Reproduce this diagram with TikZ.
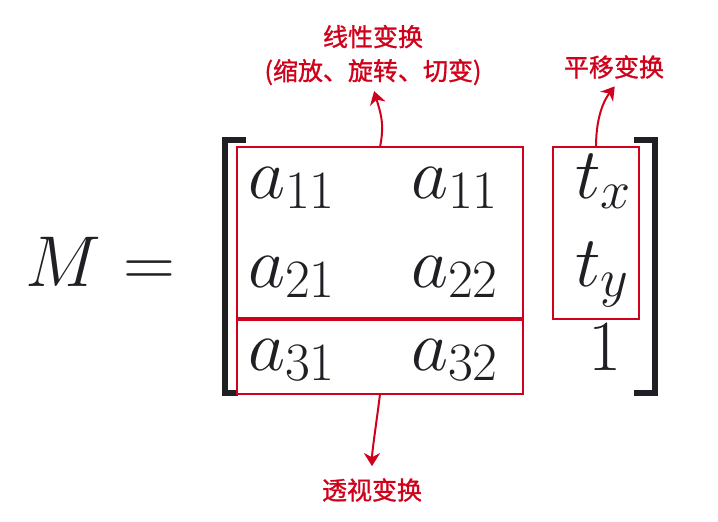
\documentclass[tikz,border=0pt]{standalone}
\usepackage{fix-cm}
\usepackage{fontspec}
\newfontfamily\cjk[FakeBold=1.2]{Noto Sans CJK SC}
\usetikzlibrary{arrows.meta}
\DeclareMathSizes{72}{72}{54}{40}
\definecolor{hired}{RGB}{208,2,27}
\definecolor{ink}{RGB}{30,32,36}

\begin{document}
\begin{tikzpicture}[x=1pt, y=-1pt,
  >={Stealth[length=13pt, width=16pt, inset=4pt]},
  entry/.style={anchor=base west, inner sep=0pt, text=ink, font=\fontsize{72}{80}\selectfont},
  hibox/.style={draw=hired, line width=2pt, inner sep=0pt, outer sep=0pt},
  lbl/.style={text=hired, font=\cjk\fontsize{25}{34}\selectfont, align=center, inner sep=2pt},
  link/.style={->, draw=hired, line width=2pt}]

\useasboundingbox (0,0) rectangle (718,522);

% Left-hand side
\node[entry] (M) at (25,286) {$M$};
\node[entry] (eq) at (123,286) {$=$};

% Matrix entries
\node[entry] (a11) at (248,198) {$a_{11}$};
\node[entry] (a12) at (411,198) {$a_{11}$};
\node[entry] (a21) at (248,287) {$a_{21}$};
\node[entry] (a22) at (411,287) {$a_{22}$};
\node[entry] (a31) at (248,370) {$a_{31}$};
\node[entry] (a32) at (411,370) {$a_{32}$};
\node[entry] (tx) at (575,198) {$t_x$};
\node[entry] (ty) at (575,286) {$t_y$};
\node[entry, anchor=base] (one) at (605,370) {$1$};

% Brackets
\draw[ink, line width=6pt] (246,140) -- (225,140) -- (225,392.5) -- (238,392.5);
\draw[ink, line width=6pt] (634,140) -- (655,140) -- (655,392.5) -- (634,392.5);

% Boxes
\node[hibox, minimum width=286pt, minimum height=171pt] (lin) at (380,232.5) {};
\node[hibox, minimum width=286pt, minimum height=74pt] (persp) at (380,357) {};
\node[hibox, minimum width=86pt, minimum height=172pt] (trans) at (596,233) {};

% Labels
\node[lbl] (linlbl) at (373,55) {线性变换\\(缩放、旋转、切变)};
\node[lbl] (translbl) at (614,67) {平移变换};
\node[lbl] (persplbl) at (372,490) {透视变换};

% Arrows
\draw[link, shorten >=4pt] (lin.north) .. controls +(5,-24) and +(7,24) .. (linlbl.south);
\draw[link, shorten >=7pt] (trans.north) .. controls +(0,-32) and +(-14,18) .. ([xshift=5pt]translbl.south);
\draw[link, shorten >=10pt] (persp.south) .. controls +(-3,25) and +(0,-25) .. (persplbl.north);

\end{tikzpicture}
\end{document}
